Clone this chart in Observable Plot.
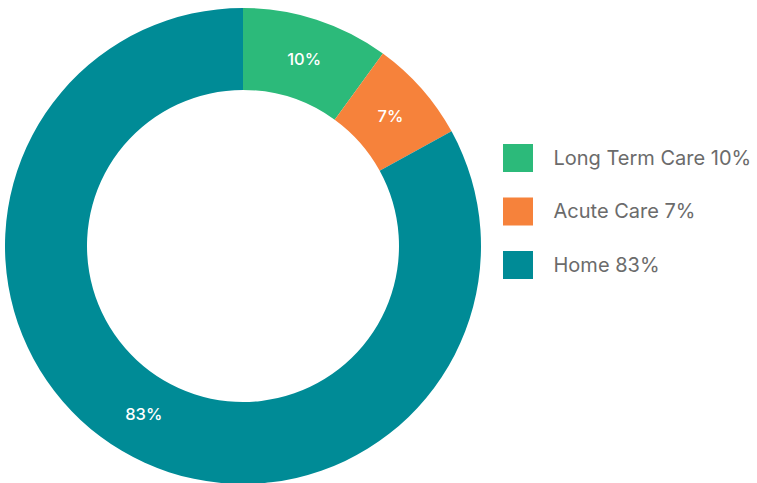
<!DOCTYPE html>
<html>
<head>
<meta charset="utf-8">
<script src="https://cdn.jsdelivr.net/npm/d3@7"></script>
<script src="https://cdn.jsdelivr.net/npm/@observablehq/plot@0.6"></script>
<style>
  html, body { margin: 0; padding: 0; background: #fff; }
  #chart svg { display: block; }
</style>
</head>
<body>
<div id="chart"></div>
<script>
const categories = ["Long Term Care", "Acute Care", "Home"];
const values = [10, 7, 83];
const colors = ["#2cba7a", "#f6823b", "#008b96"];

const W = 757, H = 483;
const cx = 243, cy = 246, rOuter = 238, rInner = 156, rLabel = 196;

const pie = d3.pie().sort(null).value(d => d.value);
const data = categories.map((c, i) => ({category: c, value: values[i], color: colors[i], i}));
const arcs = pie(data);
const labels = arcs.map(a => {
  const m = (a.startAngle + a.endAngle) / 2;
  return {x: cx + rLabel * Math.sin(m), y: cy - rLabel * Math.cos(m), text: a.data.value + "%"};
});
const legend = data.map(d => ({...d, label: `${d.category} ${d.value}%`}));

function donut(index, scales) {
  const g = d3.create("svg:g");
  const arc = d3.arc().innerRadius(rInner).outerRadius(rOuter);
  const X = scales.x(cx), Y = scales.y(cy);
  g.selectAll("path").data(arcs).join("path")
    .attr("transform", `translate(${X},${Y})`)
    .attr("d", arc)
    .attr("fill", d => d.data.color);
  return g.node();
}

const chart = Plot.plot({
  width: W, height: H,
  margin: 0,
  x: {domain: [0, W], range: [0, W], axis: null},
  y: {domain: [0, H], range: [0, H], axis: null},
  style: {fontFamily: "Inter, 'Open Sans', sans-serif", background: "#fff"},
  marks: [
    donut,
    Plot.text(labels, {x: "x", y: "y", text: "text", fill: "#fff", fontSize: 16.5, fontWeight: 500, letterSpacing: "-0.5px"}),
    Plot.rect(legend, {x1: 503, x2: 533, y1: d => 144 + d.i * 53.5, y2: d => 172 + d.i * 53.5, fill: "color"}),
    Plot.text(legend, {x: 553, y: d => 158 + d.i * 53.5, text: "label", textAnchor: "start", fill: "#6b6b6b", fontSize: 20})
  ],
  color: {type: "identity"}
});
document.getElementById("chart").appendChild(chart);
</script>
</body>
</html>
